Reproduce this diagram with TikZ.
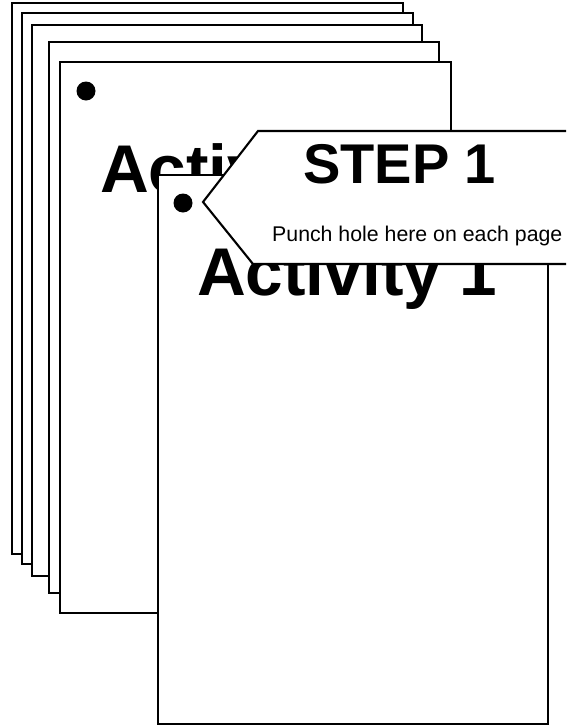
\documentclass[tikz,border=0pt]{standalone}
\usepackage{fontspec}
\setmainfont{Liberation Sans}
\begin{document}
\begin{tikzpicture}[x=1pt,y=-1pt,
  page/.style={draw=black,fill=white,line width=2.1pt},
  hole/.style={fill=black},
  title/.style={font=\fontsize{67.5}{67.5}\selectfont\bfseries, inner sep=0pt, anchor=base west},
  steptext/.style={font=\fontsize{56}{56}\selectfont\bfseries, inner sep=0pt, anchor=base west},
  note/.style={font=\fontsize{21.3}{21.3}\selectfont, inner sep=0pt, anchor=base west}]
\clip (0,0) rectangle (566,726);
\fill[white] (0,0) rectangle (566,726);
% stack of back pages
\draw[page] (12,3) rectangle (403,554);
\draw[page] (22,13) rectangle (413,564);
\draw[page] (32,25) rectangle (422,576);
\draw[page] (49,42) rectangle (439,593);
\draw[page] (60,62) rectangle (451,613);
\fill[hole] (86,91) circle (9.5);
\node[title] (backtitle) at (100,192) {Activity 1};
% front page
\draw[page] (158,175) rectangle (548,724);
\fill[hole] (183,203) circle (9.5);
\node[title] (fronttitle) at (197,295) {Activity 1};
% callout
\draw[page, line join=miter] (203,202) -- (258,131) -- (600,131) -- (600,264) -- (253,264) -- cycle;
\node[steptext] (step) at (303,183) {STEP 1};
\node[note] (punch) at (272,241) {Punch hole here on each page};
\end{tikzpicture}
\end{document}
